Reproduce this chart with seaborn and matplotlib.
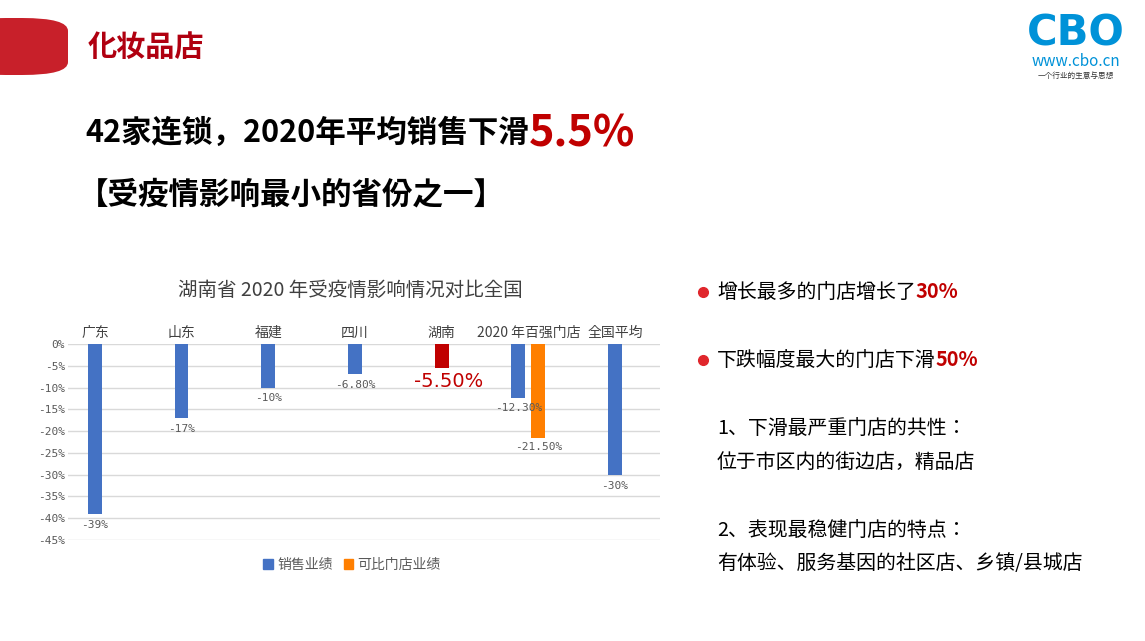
import matplotlib
matplotlib.use("Agg")
import matplotlib.pyplot as plt
from matplotlib import font_manager as fm
import seaborn as sns
import pandas as pd
from matplotlib.patches import FancyBboxPatch, Patch
from matplotlib.lines import Line2D

for f in fm.findSystemFonts():
    if "CJK" in f:
        try:
            fm.fontManager.addfont(f)
        except Exception:
            pass
names = sorted({f.name for f in fm.fontManager.ttflist if "CJK" in f.name})
cjk = "Noto Sans CJK SC" if "Noto Sans CJK SC" in names else (names[0] if names else "DejaVu Sans")
plt.rcParams["font.family"] = [cjk, "DejaVu Sans"]

categories = ["广东", "山东", "福建", "四川", "湖南", "2020 年百强门店", "全国平均"]
sales = [-39, -17, -10, -6.8, -5.5, -12.3, -30]
sales_labels = ["-39%", "-17%", "-10%", "-6.80%", "-5.50%", "-12.30%", "-30%"]
comparable_cat = "2020 年百强门店"
comparable = -21.5
comparable_label = "-21.50%"
yticks = [0, -5, -10, -15, -20, -25, -30, -35, -40, -45]

BLUE = "#4472C4"
ORANGE = "#FF7F00"
RED = "#C00000"

fig = plt.figure(figsize=(11.45, 6.41), dpi=100)
W, H = 1145, 641

def fx(x): return x / W
def fy(y): return 1 - y / H

fig.patches.append(FancyBboxPatch((fx(-40), fy(75)), fx(108), fy(18) - fy(75),
    boxstyle="round,pad=0,rounding_size=0.04", transform=fig.transFigure,
    facecolor="#C8202A", edgecolor="none", mutation_aspect=0.5))
fig.text(fx(88), fy(47), "化妆品店", color="#B00010", fontsize=21, fontweight="bold", va="center")

fig.text(fx(1076), fy(33), "CBO", color="#0092D8", fontsize=30, fontweight="bold", ha="center", va="center",
         family="DejaVu Sans")
fig.text(fx(1076), fy(62), "www.cbo.cn", color="#0092D8", fontsize=11, ha="center", va="center")
fig.text(fx(1076), fy(76), "一个行业的生意与思想", color="#333333", fontsize=5.5, ha="center", va="center")

renderer = fig.canvas.get_renderer()

def seq(x, y, parts):
    for txt, col, size in parts:
        t = fig.text(fx(x), fy(y), txt, color=col, fontsize=size, fontweight="bold", va="center")
        bb = t.get_window_extent(renderer)
        x += bb.width

seq(85, 133, [("42家连锁，2020年平均销售下滑", "black", 22), ("5.5%", RED, 31)])
fig.text(fx(78), fy(195), "【受疫情影响最小的省份之一】", color="black", fontsize=22, fontweight="bold", va="center")

for yy, a, b in [(292, "增长最多的门店增长了", "30%"), (360, "下跌幅度最大的门店下滑", "50%")]:
    fig.add_artist(Line2D([fx(703)], [fy(yy)], marker="o", markersize=7, color="#E0262C",
                          transform=fig.transFigure))
    t = fig.text(fx(717), fy(yy), a, color="black", fontsize=14.3, va="center")
    bb = t.get_window_extent(renderer)
    fig.text(fx(717) + bb.width / W, fy(yy), b, color=RED, fontsize=14.3, fontweight="bold", va="center")
for yy, s in [(428, "1、下滑最严重门店的共性："), (462, "位于市区内的街边店，精品店"),
              (530, "2、表现最稳健门店的特点："), (563, "有体验、服务基因的社区店、乡镇/县城店")]:
    fig.text(fx(717), fy(yy), s, color="black", fontsize=14.3, va="center")

ax = fig.add_axes([fx(68), fy(540), fx(660) - fx(68), fy(344) - fy(540)])
df = pd.DataFrame({"cat": categories, "val": sales})
colors = [RED if c == "湖南" else BLUE for c in categories]
sns.barplot(data=df, x="cat", y="val", hue="cat", palette=colors, legend=False,
            width=0.16, ax=ax, order=categories, saturation=1)
ci = categories.index(comparable_cat)
off = 0.115
patches = ax.patches
patches[ci].set_x(patches[ci].get_x() - off)
ax.bar(ci + off, comparable, width=0.16, color=ORANGE)

for i, (v, lab) in enumerate(zip(sales, sales_labels)):
    xx = i - off if i == ci else i
    if categories[i] == "湖南":
        ax.text(i + 0.08, v - 3.0, lab, color=RED, fontsize=14, ha="center", va="center",
                family="DejaVu Sans")
    else:
        ax.text(xx, v - 2.5, lab, color="#595959", fontsize=8, ha="center", va="center",
                family="DejaVu Sans Mono")
ax.text(ci + off, comparable - 2.2, comparable_label, color="#595959", fontsize=8,
        ha="center", va="center", family="DejaVu Sans Mono")

ax.set_ylim(-45, 0)
ax.set_xlim(-0.31, 6.52)
ax.set_yticks(yticks)
ax.set_yticklabels([f"{t}%" for t in yticks], fontsize=8, color="#595959", family="DejaVu Sans Mono")
ax.yaxis.grid(True, color="#D9D9D9", linewidth=1)
ax.set_axisbelow(True)
ax.xaxis.tick_top()
ax.tick_params(axis="x", length=0, pad=3, labelsize=10, labelcolor="#404040")
ax.tick_params(axis="y", length=0, pad=2)
ax.set_xlabel(""); ax.set_ylabel("")
for s in ax.spines.values():
    s.set_visible(False)

fig.text(fx(350), fy(290), "湖南省 2020 年受疫情影响情况对比全国", fontsize=14, color="#404040",
         ha="center", va="center")
fig.legend(handles=[Patch(color=BLUE, label="销售业绩"), Patch(color=ORANGE, label="可比门店业绩")],
           loc="center", bbox_to_anchor=(fx(352), fy(565)), ncol=2, frameon=False,
           fontsize=10, handlelength=0.7, handleheight=0.7, columnspacing=0.8, handletextpad=0.3,
           labelcolor="#595959")

fig.savefig("out.png", dpi=100)
